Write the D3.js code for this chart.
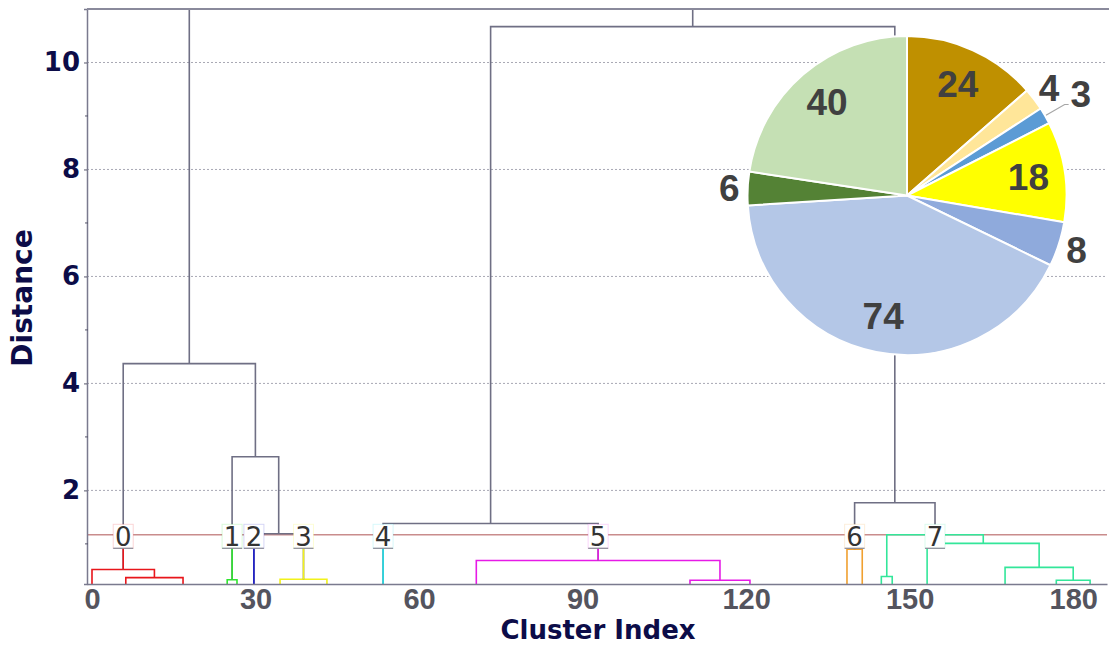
<!DOCTYPE html>
<html><head><meta charset="utf-8">
<script src="https://cdn.jsdelivr.net/npm/d3@7"></script>
<style>body{margin:0;background:#fff}</style>
</head><body><svg id="c" width="1109" height="645"></svg>
<script>
// ---------------- data ----------------
const yTicks = [2, 4, 6, 8, 10];
const yMinorTicks = [1, 3, 5, 7, 9];
const xTicks = [0, 30, 60, 90, 120, 150, 180];
const threshold = 1.17;

const clusterIds = [0, 1, 2, 3, 4, 5, 6, 7];
const clusterCenters = [5.725, 25.7, 29.7, 38.8, 53.4, 92.85, 139.9, 154.65];
const clusterTops = [0.52, 0.33, 0.1, 0.34, 0.1, 0.69, 0.9, 1.17];
const clusterColors = ["#e8161b", "#2ee62e", "#1a1acc", "#f2f21a", "#22e0e8", "#e61ae6", "#f0a030", "#33e69a"];

// links inside each cluster (icoord / dcoord style)
const linkCluster = [0, 0, 1, 2, 3, 4, 5, 5, 6, 7, 7, 7, 7, 7];
const linkX = [
  [6.2, 6.2, 16.7, 16.7],
  [0, 0, 11.45, 11.45],
  [24.8, 24.8, 26.6, 26.6],
  [29.5, 29.5, 29.9, 29.9],
  [34.5, 34.5, 43.1, 43.1],
  [53.2, 53.2, 53.6, 53.6],
  [109.7, 109.7, 120.7, 120.7],
  [70.5, 70.5, 115.2, 115.2],
  [138.5, 138.5, 141.3, 141.3],
  [144.8, 144.8, 146.8, 146.8],
  [176.9, 176.9, 183.1, 183.1],
  [167.5, 167.5, 180.0, 180.0],
  [153.2, 153.2, 173.75, 173.75],
  [145.8, 145.8, 163.5, 163.5]
];
const linkY = [
  [0, 0.37, 0.37, 0],
  [0, 0.52, 0.52, 0.37],
  [0, 0.33, 0.33, 0],
  [0, 0.1, 0.1, 0],
  [0, 0.34, 0.34, 0],
  [0, 0.1, 0.1, 0],
  [0, 0.32, 0.32, 0],
  [0, 0.69, 0.69, 0.32],
  [0, 0.9, 0.9, 0],
  [0, 0.39, 0.39, 0],
  [0, 0.32, 0.32, 0],
  [0, 0.56, 0.56, 0.32],
  [0, 1.01, 1.01, 0.56],
  [0.39, 1.17, 1.17, 1.01]
];
// links above the cut
const upperX = [
  [29.7, 29.7, 38.8, 38.8],
  [25.7, 25.7, 34.25, 34.25],
  [5.725, 5.725, 29.975, 29.975],
  [53.4, 53.4, 92.85, 92.85],
  [139.9, 139.9, 154.65, 154.65],
  [73.125, 73.125, 147.275, 147.275],
  [17.85, 17.85, 110.2, 110.2]
];
const upperY = [
  [0.1, 1.19, 1.19, 0.34],
  [0.33, 2.63, 2.63, 1.19],
  [0.52, 4.37, 4.37, 2.63],
  [0.1, 1.38, 1.38, 0.69],
  [0.9, 1.77, 1.77, 1.17],
  [1.38, 10.67, 10.67, 1.77],
  [4.37, 11.6, 11.6, 10.67]
];

const pieValues = [24, 4, 3, 18, 8, 74, 6, 40];
const pieColors = ["#bf9000", "#ffe699", "#5b9bd5", "#ffff00", "#8faadc", "#b4c7e7", "#548235", "#c5e0b4"];
const pieLabelPlace = ["in", "out", "leader", "in", "out", "in", "out", "in"];

// ---------------- layout ----------------
const svg = d3.select("#c");
const L = 87, R = 1107, T = 9, B = 584;
const x = d3.scaleLinear().domain([-0.917, 186.2]).range([L, R]);
const y = d3.scaleLinear().domain([0.25, 11]).range([B, T]);
const gray = "#6f6f84";
const navy = "#0c0c48";

svg.append("defs").append("clipPath").attr("id", "clip")
  .append("rect").attr("x", L).attr("y", T).attr("width", R - L).attr("height", B - T);

// grid
svg.append("g").selectAll("line").data(yTicks).join("line")
  .attr("x1", L).attr("x2", R).attr("y1", d => y(d)).attr("y2", d => y(d))
  .attr("stroke", "#a8a8b4").attr("stroke-width", 1).attr("stroke-dasharray", "2,2");

// threshold
svg.append("line").attr("x1", L).attr("x2", R).attr("y1", y(threshold)).attr("y2", y(threshold))
  .attr("stroke", "#c98c8c").attr("stroke-width", 1.6);

const plot = svg.append("g").attr("clip-path", "url(#clip)");
const uPath = (xs, ys) => "M" + xs.map((v, i) => x(v) + "," + y(ys[i])).join("L");

plot.append("g").selectAll("path").data(linkX).join("path")
  .attr("d", (d, i) => uPath(d, linkY[i]))
  .attr("fill", "none").attr("stroke", (d, i) => clusterColors[linkCluster[i]]).attr("stroke-width", 1.6);

plot.append("g").selectAll("path").data(upperX).join("path")
  .attr("d", (d, i) => uPath(d, upperY[i]))
  .attr("fill", "none").attr("stroke", gray).attr("stroke-width", 1.6);

// coloured stems from cluster top up to the cut
plot.append("g").selectAll("line").data(clusterIds).join("line")
  .attr("x1", i => x(clusterCenters[i])).attr("x2", i => x(clusterCenters[i]))
  .attr("y1", i => y(clusterTops[i])).attr("y2", i => y(threshold))
  .attr("stroke", i => clusterColors[i]).attr("stroke-width", 1.6);

// cluster labels
const lab = svg.append("g").selectAll("g").data(clusterIds).join("g")
  .attr("transform", i => `translate(${x(clusterCenters[i])},${y(threshold) + 1.5})`);
lab.append("rect").attr("x", -10).attr("y", -12).attr("width", 20).attr("height", 24)
  .attr("fill", "#fff").attr("stroke", i => clusterColors[i]).attr("stroke-opacity", 0.18).attr("stroke-width", 1);
lab.append("line").attr("x1", -10).attr("x2", 10).attr("y1", 12).attr("y2", 12)
  .attr("stroke", "#8a8a96").attr("stroke-width", 1.2);
lab.append("text").text(i => i).attr("text-anchor", "middle").attr("dy", "0.36em")
  .attr("font-family", "DejaVu Sans").attr("font-size", 26).attr("fill", "#333");

// axes
const yAxis = svg.append("g").attr("transform", `translate(${L},0)`)
  .call(d3.axisLeft(y).tickValues(yTicks).tickSize(3).tickPadding(4).tickFormat(d3.format("d")));
yAxis.select(".domain").attr("stroke", "#7a7a8e").attr("stroke-width", 1.5);
yAxis.selectAll(".tick line").attr("stroke", "#55556a");
yAxis.selectAll("text").attr("font-family", "DejaVu Sans").attr("font-weight", "bold")
  .attr("font-size", 26).attr("fill", navy);
svg.append("g").selectAll("line").data(yMinorTicks).join("line")
  .attr("x1", L - 2).attr("x2", L + 1).attr("y1", d => y(d)).attr("y2", d => y(d))
  .attr("stroke", "#55556a");

const xAxis = svg.append("g").attr("transform", `translate(0,${B})`)
  .call(d3.axisBottom(x).tickValues(xTicks).tickSize(0).tickFormat(d3.format("d")));
xAxis.select(".domain").attr("stroke", "#7a7a8e").attr("stroke-width", 1.5);
xAxis.selectAll("text").attr("font-family", "Liberation Sans").attr("font-weight", "bold")
  .attr("font-size", 29).attr("fill", "#54545e").attr("y", 24.5).attr("dy", 0);

// top frame
svg.append("line").attr("x1", L).attr("x2", R + 2).attr("y1", T).attr("y2", T)
  .attr("stroke", "#8a8a9c").attr("stroke-width", 2);

svg.append("text").text("Cluster Index").attr("x", 598).attr("y", 638.8)
  .attr("text-anchor", "middle").attr("font-family", "DejaVu Sans").attr("font-weight", "bold")
  .attr("font-size", 26).attr("fill", navy);
svg.append("text").text("Distance").attr("transform", "translate(32,298) rotate(-90)")
  .attr("text-anchor", "middle").attr("font-family", "DejaVu Sans").attr("font-weight", "bold")
  .attr("font-size", 28).attr("fill", navy);

// pie
const cx = 907, cy = 195.5, r = 159.5;
const pg = svg.append("g").attr("transform", `translate(${cx},${cy})`);
const arcs = d3.pie().sort(null)(pieValues);
const arc = d3.arc().innerRadius(0).outerRadius(r);
pg.selectAll("path").data(arcs).join("path").attr("d", arc)
  .attr("fill", (d, i) => pieColors[i]).attr("stroke", "#fff").attr("stroke-width", 2);

const inArc = d3.arc().innerRadius(r * 0.77).outerRadius(r * 0.77);
const outArc = d3.arc().innerRadius(178).outerRadius(178);
const edgeArc = d3.arc().innerRadius(r + 1).outerRadius(r + 1);
arcs.forEach((a, i) => {
  let p, anchor = "middle";
  if (pieLabelPlace[i] === "in") p = inArc.centroid(a);
  else if (pieLabelPlace[i] === "out") p = outArc.centroid(a);
  else {
    const p0 = edgeArc.centroid(a), p1 = d3.arc().innerRadius(182).outerRadius(182).centroid(a);
    pg.append("polyline").attr("points", `${p0} ${p1} ${p1[0] + 4},${p1[1]}`)
      .attr("fill", "none").attr("stroke", "#a6a6a6").attr("stroke-width", 1.2);
    p = [p1[0] + 6, p1[1] - 10]; anchor = "start";
  }
  pg.append("text").text(pieValues[i]).attr("x", p[0]).attr("y", p[1]).attr("dy", "0.35em")
    .attr("text-anchor", anchor).attr("font-family", "Liberation Sans").attr("font-weight", "bold")
    .attr("font-size", 37).attr("fill", "#404040");
});
</script></body></html>
